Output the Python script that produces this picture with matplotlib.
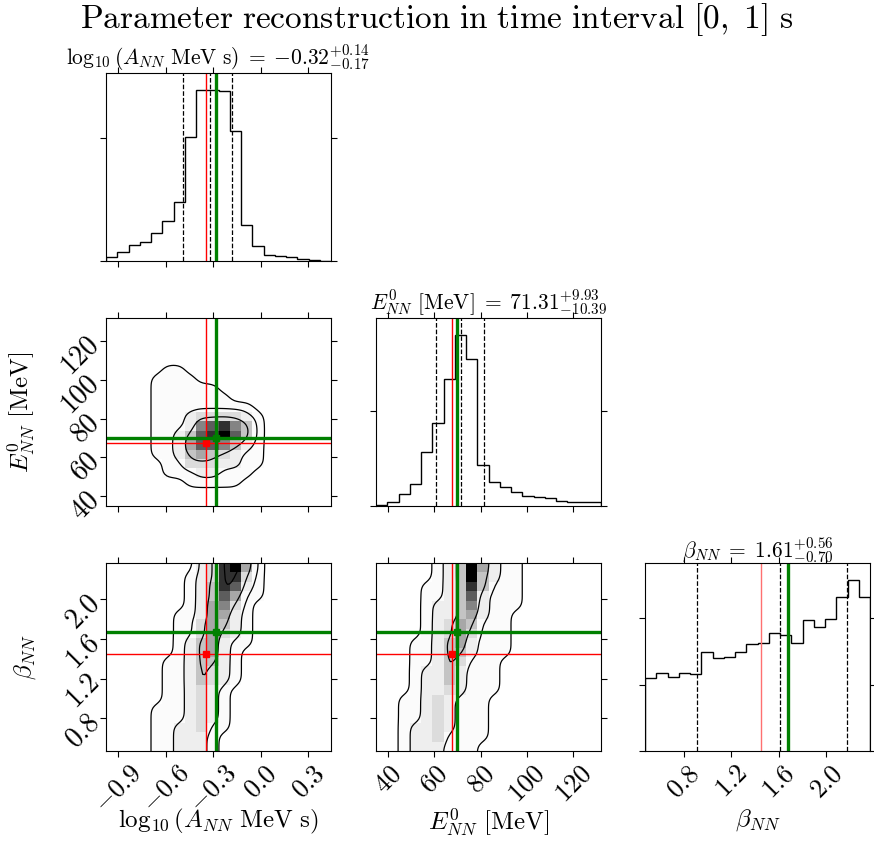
import numpy as np
import matplotlib
matplotlib.use('Agg')
import matplotlib.pyplot as plt
from matplotlib.colors import LinearSegmentedColormap, PowerNorm
from matplotlib.ticker import MultipleLocator

plt.rcParams['mathtext.fontset'] = 'cm'
plt.rcParams['font.family'] = 'serif'
plt.rcParams['font.serif'] = ['cmr10', 'DejaVu Serif']
plt.rcParams['axes.unicode_minus'] = False

# ---- data ----
labels = [r'$\log_{10}(A_{NN}\ \mathrm{MeV\ s})$', r'$E^0_{NN}\ [\mathrm{MeV}]$', r'$\beta_{NN}$']
ranges = [(-0.975, 0.443), (34.8, 132.0), (0.472, 2.368)]
ticks = [[-0.9, -0.6, -0.3, 0.0, 0.3], [40, 60, 80, 100, 120], [0.8, 1.2, 1.6, 2.0]]
tick_fmt = ['{:.1f}', '{:.0f}', '{:.1f}']

medians = [-0.32, 71.31, 1.61]
err_hi = [0.14, 9.93, 0.56]
err_lo = [0.17, 10.39, 0.70]
truths = [-0.28, 70.0, 1.675]
best_fit = [-0.345, 67.6, 1.45]

hist_A = [163, 379, 637, 786, 1152, 1640, 2412, 5068, 6965, 6960, 6925, 5312,
          1477, 610, 257, 203, 149, 81, 27, 14]
hist_E = [53, 211, 616, 1179, 2851, 4365, 6723, 9029, 7744, 2165, 1267, 1021,
          722, 546, 493, 422, 264, 211, 194, 194]
hist_b = [2191, 2342, 2221, 2362, 2322, 2985, 2814, 2844, 2975, 3226, 3246, 3548,
          3487, 3266, 3950, 3729, 3970, 4643, 5156, 4633]
hist_ystep = [5000, 5000, 2000]

# 2D density, 20x20 cells, top row first, shade 0 (white) .. 9 (black)
dens_AE = [
    "00000000000000000000",
    "00000000000000000000",
    "00000000000000000000",
    "00000000000000000000",
    "00000000000000000000",
    "00000110000000000000",
    "00001111000000000000",
    "00001111110000000000",
    "00001111111000000000",
    "00001111111110000000",
    "00001112333321000000",
    "00001112678641000000",
    "00001124789741000000",
    "00001125776421000000",
    "00001124543211000000",
    "00000113332211000000",
    "00000111221110000000",
    "00000001111100000000",
    "00000000000000000000",
    "00000000000000000000",
]
dens_Ab = [
    "00000000238951000000",
    "00000001238831000000",
    "00000001248721000000",
    "00000001247511000000",
    "00000001256310000000",
    "00000011255210000000",
    "00000011354210000000",
    "00000011353210000000",
    "00000012452110000000",
    "00000012452100000000",
    "00000112442100000000",
    "00000112432100000000",
    "00000112432100000000",
    "00000112321000000000",
    "00000112321000000000",
    "00001112321000000000",
    "00001112321000000000",
    "00001122311000000000",
    "00001122210000000000",
    "00001122210000000000",
]
dens_Eb = [
    "00000124952110000000",
    "00000124942110000000",
    "00001124841110000000",
    "00001124721110000000",
    "00001224621110000000",
    "00001224521100000000",
    "00001235411100000000",
    "00001235311100000000",
    "00011245211100000000",
    "00011244211100000000",
    "00011243111000000000",
    "00012242111000000000",
    "00012242111000000000",
    "00012232111000000000",
    "00112321110000000000",
    "00112321110000000000",
    "00112321110000000000",
    "00122321110000000000",
    "00122311110000000000",
    "00122211100000000000",
]
levels_AE = [0.5, 1.5, 3.5, 8.0]
levels_Ab = [0.5, 1.5, 3.5, 7.3]
levels_Eb = [0.5, 1.5, 3.5, 7.3]

# ---- layout (pixels) ----
W, H = 874, 846
col_left = [106, 376, 645]
row_top = [73, 318, 563]
ax_w, ax_h = 225, 188

fig = plt.figure(figsize=(W / 100, H / 100), dpi=100)
gray = LinearSegmentedColormap.from_list('dens', ['white', 'black'])


def make_ax(row, col):
    l = col_left[col] / W
    b = (H - row_top[row] - ax_h) / H
    ax = fig.add_axes([l, b, ax_w / W, ax_h / H])
    ax.tick_params(direction='out', top=True, right=True, length=4, width=0.8)
    for s in ax.spines.values():
        s.set_linewidth(0.8)
    return ax


def style_x(ax, i, show):
    ax.set_xlim(ranges[i])
    ax.set_xticks(ticks[i])
    if show:
        ax.set_xticklabels(['$' + tick_fmt[i].format(t) + '$' for t in ticks[i]],
                           rotation=45, fontsize=19)
        ax.set_xlabel(labels[i], fontsize=18)
        ax.xaxis.set_label_coords(0.5, -0.3)
    else:
        ax.set_xticklabels([])


def style_y(ax, j, show):
    ax.set_ylim(ranges[j])
    ax.set_yticks(ticks[j])
    if show:
        ax.set_yticklabels(['$' + tick_fmt[j].format(t) + '$' for t in ticks[j]],
                           rotation=45, rotation_mode='anchor', ha='right', va='center',
                           fontsize=20)
        ax.set_ylabel(labels[j], fontsize=18)
        ax.yaxis.set_label_coords(-0.3, 0.5)
    else:
        ax.set_yticklabels([])


def smooth_grid(Hd, xe, ye, f=5, sig=0.45):
    # finer grid for smoother contour lines
    xc = 0.5 * (xe[1:] + xe[:-1])
    yc = 0.5 * (ye[1:] + ye[:-1])
    xf = np.linspace(xe[0], xe[-1], len(xc) * f + 1)
    yf = np.linspace(ye[0], ye[-1], len(yc) * f + 1)
    tmp = np.array([np.interp(xf, xc, r) for r in Hd])
    Z = np.array([np.interp(yf, yc, c) for c in tmp.T]).T
    s = sig * f
    hw = int(3 * s)
    k = np.exp(-0.5 * (np.arange(-hw, hw + 1) / s) ** 2)
    k /= k.sum()
    Z = np.pad(Z, hw, mode='edge')
    Z = np.apply_along_axis(lambda v: np.convolve(v, k, mode='valid'), 1, Z)
    Z = np.apply_along_axis(lambda v: np.convolve(v, k, mode='valid'), 0, Z)
    return xf, yf, Z


hists = [hist_A, hist_E, hist_b]
red_cols = ['red', 'red', '#ff7070']
titles = [r'$\log_{10}(A_{NN}\ \mathrm{MeV\ s})$', r'$E^0_{NN}\ [\mathrm{MeV}]$', r'$\beta_{NN}$']

# diagonal
for i in range(3):
    ax = make_ax(i, i)
    edges = np.linspace(ranges[i][0], ranges[i][1], len(hists[i]) + 1)
    counts = np.array(hists[i], float)
    ax.stairs(counts, edges, color='k', lw=1.0)
    ax.set_ylim(0, 1.1 * counts.max())
    style_x(ax, i, i == 2)
    ax.set_xlim(ranges[i])
    ax.yaxis.set_major_locator(MultipleLocator(hist_ystep[i]))
    ax.set_yticklabels([])
    for q in (medians[i] - err_lo[i], medians[i], medians[i] + err_hi[i]):
        ax.axvline(q, ls='--', color='k', lw=0.9)
    ax.axvline(best_fit[i], color=red_cols[i], lw=1.0)
    ax.axvline(truths[i], color='green', lw=2.4)
    ttl = titles[i][:-1] + r'\;=\;{%.2f}^{+%.2f}_{-%.2f}$' % (medians[i], err_hi[i], err_lo[i])
    ax.set_title(ttl, fontsize=15.5, pad=4)

# lower triangle
pairs = [(1, 0, dens_AE, levels_AE), (2, 0, dens_Ab, levels_Ab), (2, 1, dens_Eb, levels_Eb)]
for row, col, grid, lev in pairs:
    ax = make_ax(row, col)
    Hd = np.array([[int(c) for c in r] for r in grid[::-1]], float)
    xe = np.linspace(ranges[col][0], ranges[col][1], Hd.shape[1] + 1)
    ye = np.linspace(ranges[row][0], ranges[row][1], Hd.shape[0] + 1)
    ax.pcolormesh(xe, ye, Hd, cmap=gray, norm=PowerNorm(1.8, vmin=0, vmax=9),
                  shading='flat', linewidth=0, antialiased=False)
    xf, yf, Z = smooth_grid(Hd, xe, ye)
    ax.contour(xf, yf, Z, levels=lev, colors='k', linewidths=0.9)
    ax.axvline(best_fit[col], color='red', lw=1.0)
    ax.axhline(best_fit[row], color='red', lw=1.0)
    ax.plot(best_fit[col], best_fit[row], 's', color='red', ms=4)
    ax.axvline(truths[col], color='green', lw=2.4)
    ax.axhline(truths[row], color='green', lw=2.4)
    ax.plot(truths[col], truths[row], 's', color='green', ms=4)
    style_x(ax, col, row == 2)
    style_y(ax, row, col == 0)

fig.text(0.5, 1 - 28 / H, r'$\mathrm{Parameter\ reconstruction\ in\ time\ interval\ [0,\ 1]\ s}$',
         ha='center', va='baseline', fontsize=24)

fig.savefig('out.png', dpi=100)
